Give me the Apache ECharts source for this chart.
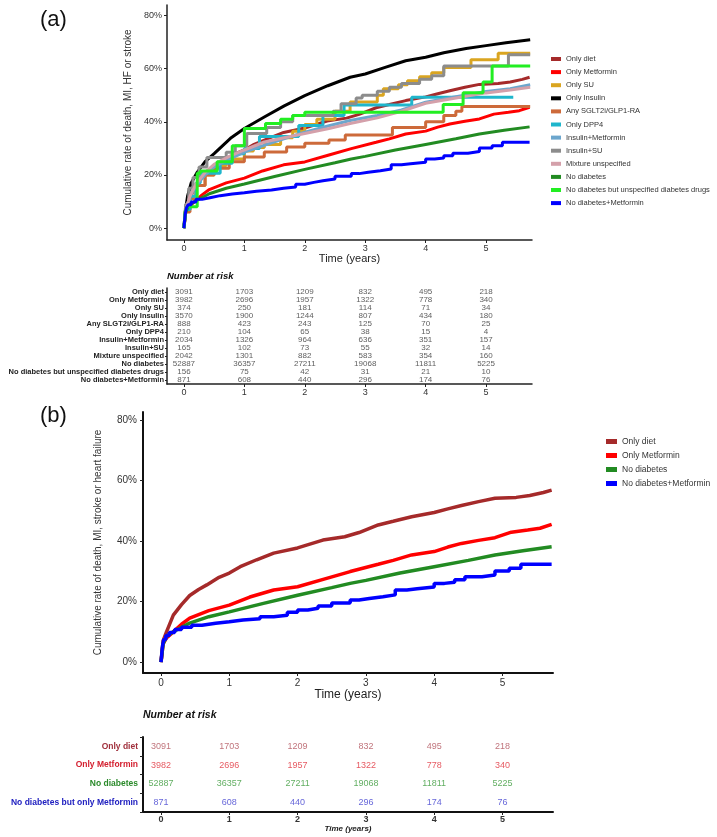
<!DOCTYPE html>
<html>
<head>
<meta charset="utf-8">
<script src="https://cdn.jsdelivr.net/npm/echarts@6/dist/echarts.min.js"></script>
<style>
html, body { margin: 0; padding: 0; background: #fff; }
#chartDiv { width: 717px; height: 837px; }
</style>
</head>
<body>
<div id="chartDiv"></div>
<script>
// cumulative rate curves, [years, %]
var onlyDiet = [[0,0],[0.03,7],[0.08,10],[0.18,15.5],[0.3,19],[0.42,22],[0.55,24],[0.67,25.5],[0.85,28],[1,29.4],[1.16,31.5],[1.4,33.8],[1.65,36],[2,37.7],[2.37,40.3],[2.69,41.4],[2.9,42.8],[3.18,45.3],[3.4,46.5],[3.67,48],[4,49.4],[4.2,50.6],[4.4,51.7],[4.65,53],[4.89,54.1],[5.2,54.4],[5.4,55],[5.6,56],[5.72,56.8]];
var onlyMetformin = [[0,0],[0.03,6],[0.08,8],[0.18,10],[0.3,12.5],[0.42,14.5],[0.7,17],[1,18.8],[1.3,21.5],[1.65,23.8],[2,24.9],[2.4,27.5],[2.77,29.9],[3.18,32.3],[3.4,33.6],[3.67,35.4],[4,36.5],[4.2,38],[4.4,39.2],[4.65,40.2],[4.89,41.1],[5.13,42.9],[5.37,43.6],[5.55,44.2],[5.72,45.5]];
var onlySU = [[0,0],[0.03,7],[0.1,12],[0.2,16],[0.35,20],[0.5,23.6],[0.7,26],[1,29],[1.15,30.3],[1.33,31.5],[1.6,34],[1.8,36.5],[2,39],[2.2,41],[2.5,44],[2.75,47.5],[3.2,50],[3.3,52.5],[3.55,54],[3.7,55.5],[3.9,57],[4.1,58.5],[4.3,60.5],[4.75,63.4],[5.2,65.8],[5.73,65.8]];
var onlyInsulin = [[0,0],[0.02,6],[0.06,12],[0.12,17],[0.22,21],[0.35,25],[0.5,28],[0.77,33.8],[1,37.5],[1.33,41.8],[1.66,46],[2,49.9],[2.38,53.6],[2.75,56.8],[3,58],[3.33,60.5],[3.67,63],[4,64.3],[4.3,66],[4.67,67.6],[5,68.7],[5.33,69.8],[5.73,70.9]];
var anySGLT2 = [[0,0],[0.03,6],[0.1,11],[0.2,16],[0.35,20],[0.5,22.5],[0.75,25],[1,26.8],[1.33,28.6],[1.7,30.5],[2,31.9],[2.4,33.2],[2.67,35],[3.45,37.9],[4,40],[4.3,42.4],[4.5,44],[4.6,45.8],[5.73,45.8]];
var onlyDPP4 = [[0,0],[0.03,7],[0.1,12],[0.2,17],[0.27,20.6],[0.6,24.4],[0.8,28],[1,30],[1.25,34.5],[1.9,38.6],[2.3,42.4],[2.65,46.3],[3.77,49.3],[5.45,49.3]];
var insulinMetformin = [[0,0],[0.03,7],[0.1,12],[0.2,16],[0.35,20],[0.5,23],[0.75,26],[1,28.6],[1.5,32.5],[2,36.1],[2.4,38.5],[2.75,40.5],[3.2,42.4],[3.6,44.5],[4,47.4],[4.5,49.5],[5,51.4],[5.4,52.5],[5.73,54]];
var insulinSU = [[0,0],[0.03,9],[0.08,15],[0.15,19],[0.25,23],[0.38,26.6],[0.7,28.5],[0.85,31],[1.04,35.6],[1.37,37.9],[1.6,40],[1.8,42.4],[2.47,44],[2.6,46.8],[2.85,49],[2.95,50],[3.2,51.5],[3.4,53],[3.6,54.4],[3.9,56],[4.1,57.4],[4.3,61],[5.37,65.3],[5.73,65.3]];
var mixture = [[0,0],[0.03,7],[0.1,12],[0.2,16.5],[0.35,21],[0.5,24],[0.75,27],[1,29.4],[1.33,32.4],[1.7,34.2],[2,35.6],[2.4,37.5],[2.75,39.4],[3.2,41.5],[3.6,44],[4,47],[4.5,49],[5,50.9],[5.4,52],[5.73,53]];
var noDiabetes = [[0,0],[0.03,6],[0.08,8.5],[0.18,10],[0.42,12.9],[0.7,15],[1,16.6],[1.5,19.4],[2,22.1],[2.5,24.6],[2.77,26],[3,27],[3.5,29.4],[4,31.5],[4.5,33.6],[4.89,35.4],[5.3,36.8],[5.72,38.1]];
var ndUnspecified = [[0,0],[0.02,6],[0.05,8],[0.22,20.6],[0.27,21.5],[0.55,25],[0.8,31],[1,37.5],[1.35,39.4],[1.6,41],[1.8,42.4],[2,43.6],[4.29,46.5],[4.62,51],[4.95,55],[5.1,61],[5.73,61]];
var ndMetformin = [[0,0],[0.02,5],[0.04,7.5],[0.07,8.8],[0.12,9.8],[0.2,10.8],[0.3,11.5],[0.45,12.2],[0.6,12.8],[0.8,13.3],[1,13.9],[1.2,14.3],[1.45,15],[1.65,15.5],[1.85,16.5],[2,17.2],[2.15,17.8],[2.3,18.5],[2.5,19.5],[2.77,20.5],[2.9,21],[3.05,21.6],[3.25,22.2],[3.43,23.8],[3.6,24.2],[3.75,24.8],[4,26],[4.15,26.4],[4.3,27.2],[4.45,28.2],[4.7,28.8],[4.89,30.1],[5.1,31],[5.27,32.3],[5.72,32.3]];

var groupsA = ['Only diet', 'Only Metformin', 'Only SU', 'Only Insulin', 'Any SGLT2i/GLP1-RA', 'Only DPP4',
    'Insulin+Metformin', 'Insulin+SU', 'Mixture unspecified', 'No diabetes',
    'No diabetes but unspecified diabetes drugs', 'No diabetes+Metformin'];
var curvesA = [onlyDiet, onlyMetformin, onlySU, onlyInsulin, anySGLT2, onlyDPP4,
    insulinMetformin, insulinSU, mixture, noDiabetes, ndUnspecified, ndMetformin];
var groupsB = ['Only diet', 'Only Metformin', 'No diabetes', 'No diabetes+Metformin'];
var curvesB = [onlyDiet, onlyMetformin, noDiabetes, ndMetformin];

// number at risk
var riskTimes = [0, 1, 2, 3, 4, 5];
var riskNamesA = ['Only diet', 'Only Metformin', 'Only SU', 'Only Insulin', 'Any SLGT2i/GLP1-RA', 'Only DPP4',
    'Insulin+Metformin', 'Insulin+SU', 'Mixture unspecified', 'No diabetes',
    'No diabetes but unspecified diabetes drugs', 'No diabetes+Metformin'];
var riskA = [
    [3091, 1703, 1209, 832, 495, 218],
    [3982, 2696, 1957, 1322, 778, 340],
    [374, 250, 181, 114, 71, 34],
    [3570, 1900, 1244, 807, 434, 180],
    [888, 423, 243, 125, 70, 25],
    [210, 104, 65, 38, 15, 4],
    [2034, 1326, 964, 636, 351, 157],
    [165, 102, 73, 55, 32, 14],
    [2042, 1301, 882, 583, 354, 160],
    [52887, 36357, 27211, 19068, 11811, 5225],
    [156, 75, 42, 31, 21, 10],
    [871, 608, 440, 296, 174, 76]
];
var riskNamesB = ['Only diet', 'Only Metformin', 'No diabetes', 'No diabetes but only Metformin'];
var riskB = [
    [3091, 1703, 1209, 832, 495, 218],
    [3982, 2696, 1957, 1322, 778, 340],
    [52887, 36357, 27211, 19068, 11811, 5225],
    [871, 608, 440, 296, 174, 76]
];
var yTicks = [0, 20, 40, 60, 80];
var xTicks = [0, 1, 2, 3, 4, 5];

// 颜色
var colors = {
    'Only diet': '#a52a2a',
    'Only Metformin': '#ff0000',
    'Only SU': '#daa520',
    'Only Insulin': '#000000',
    'Any SGLT2i/GLP1-RA': '#cd6a3a',
    'Only DPP4': '#1fb6cc',
    'Insulin+Metformin': '#6ca6cd',
    'Insulin+SU': '#8c8c8c',
    'Mixture unspecified': '#d4a0aa',
    'No diabetes': '#228b22',
    'No diabetes but unspecified diabetes drugs': '#22ee22',
    'No diabetes+Metformin': '#0000ff'
};
var stepped = ['Only SU', 'Any SGLT2i/GLP1-RA', 'Only DPP4', 'Insulin+SU',
    'No diabetes but unspecified diabetes drugs', 'No diabetes+Metformin'];
var riskLabelColorsB = ['#a0303c', '#d42030', '#2a8a2a', '#2020c0'];
var riskNumColorsB = ['#b0505a', '#e0303a', '#3a9a3a', '#4040d0'];

var FONT = 'Liberation Sans, Arial, sans-serif';

var myChart = echarts.init(document.getElementById('chartDiv'));

function curve(name, data, idx, width) {
    return {
        name: name,
        type: 'line',
        data: data,
        xAxisIndex: idx,
        yAxisIndex: idx,
        step: stepped.indexOf(name) >= 0 ? 'end' : false,
        showSymbol: false,
        symbol: 'none',
        silent: true,
        lineStyle: {color: colors[name], width: width},
        itemStyle: {color: colors[name]}
    };
}

function riskSeries(names, rows, idx, fontSize, colorFn) {
    var data = [];
    rows.forEach(function (row, i) {
        row.forEach(function (n, j) {
            data.push({value: [riskTimes[j], names[i], n], label: {color: colorFn(i)}});
        });
    });
    return {
        type: 'scatter',
        xAxisIndex: idx,
        yAxisIndex: idx,
        symbolSize: 1,
        silent: true,
        itemStyle: {color: 'transparent'},
        label: {
            show: true,
            position: 'inside',
            fontSize: fontSize,
            fontFamily: FONT,
            formatter: function (p) { return p.value[2]; }
        },
        data: data
    };
}

function timeAxis(idx, min, max, opts) {
    return Object.assign({
        type: 'value',
        gridIndex: idx,
        min: min,
        max: max,
        splitLine: {show: false},
        axisLine: {show: true, onZero: false, lineStyle: {color: '#222', width: 1.5}},
        axisTick: {show: true, customValues: xTicks, length: 3, lineStyle: {color: '#222'}},
        axisLabel: {customValues: xTicks, fontSize: 9, color: '#333', margin: 4, fontFamily: FONT}
    }, opts);
}

function pctAxis(idx, min, max, opts) {
    return Object.assign({
        type: 'value',
        gridIndex: idx,
        min: min,
        max: max,
        splitLine: {show: false},
        axisLine: {show: true, onZero: false, lineStyle: {color: '#222', width: 1.5}},
        axisTick: {show: true, customValues: yTicks, length: 3, lineStyle: {color: '#222'}},
        axisLabel: {customValues: yTicks, formatter: '{value}%', fontSize: 9, color: '#333', margin: 5, fontFamily: FONT},
        nameLocation: 'middle',
        nameTextStyle: {fontSize: 10, color: '#333', fontFamily: FONT}
    }, opts);
}

var series = [];
groupsA.forEach(function (g, i) { series.push(curve(g, curvesA[i], 0, 3)); });
series.push(riskSeries(riskNamesA, riskA, 1, 8, function () { return '#333'; }));
groupsB.forEach(function (g, i) { series.push(curve(g, curvesB[i], 2, 3.5)); });
series.push(riskSeries(riskNamesB, riskB, 3, 9, function (i) { return riskNumColorsB[i]; }));

var option = {
    backgroundColor: '#fff',
    animation: false,
    textStyle: {fontFamily: FONT},
    grid: [
        {left: 167, top: 5, width: 365, height: 235},
        {left: 167, top: 288, width: 365, height: 96},
        {left: 143, top: 412, width: 410, height: 261},
        {left: 143, top: 737, width: 410, height: 75}
    ],
    xAxis: [
        timeAxis(0, -0.28, 5.76, {
            name: 'Time (years)', nameLocation: 'middle', nameGap: 12,
            nameTextStyle: {fontSize: 11, color: '#222', fontFamily: FONT, verticalAlign: 'top'}
        }),
        timeAxis(1, -0.28, 5.76, {}),
        timeAxis(2, -0.264, 5.74, {
            axisLine: {show: true, onZero: false, lineStyle: {color: '#111', width: 2}},
            axisLabel: {customValues: xTicks, fontSize: 10, color: '#333', margin: 5, fontFamily: FONT},
            name: 'Time (years)', nameLocation: 'middle', nameGap: 14,
            nameTextStyle: {fontSize: 12, color: '#222', fontFamily: FONT, verticalAlign: 'top'}
        }),
        timeAxis(3, -0.264, 5.74, {
            axisLine: {show: true, onZero: false, lineStyle: {color: '#111', width: 2}},
            axisLabel: {customValues: xTicks, fontSize: 9, fontWeight: 'bold', color: '#333', margin: 3, fontFamily: FONT},
            name: 'Time (years)', nameLocation: 'middle', nameGap: 13,
            nameTextStyle: {fontSize: 8, fontStyle: 'italic', fontWeight: 'bold', color: '#222', fontFamily: FONT, verticalAlign: 'top'}
        })
    ],
    yAxis: [
        pctAxis(0, -4.5, 84, {name: 'Cumulative rate of death, MI, HF or stroke', nameGap: 30}),
        {
            type: 'category',
            gridIndex: 1,
            inverse: true,
            data: riskNamesA,
            axisLine: {show: true, onZero: false, lineStyle: {color: '#222', width: 1.5}},
            axisTick: {show: true, length: 2, alignWithLabel: true, lineStyle: {color: '#222'}},
            axisLabel: {fontSize: 7.5, fontWeight: 'bold', color: '#222', margin: 3, interval: 0, fontFamily: FONT}
        },
        pctAxis(2, -3.6, 82.6, {
            axisLine: {show: true, onZero: false, lineStyle: {color: '#111', width: 2}},
            axisLabel: {customValues: yTicks, formatter: '{value}%', fontSize: 10, color: '#333', margin: 6, fontFamily: FONT},
            name: 'Cumulative rate of death, MI, stroke or heart failure', nameGap: 40
        }),
        {
            type: 'category',
            gridIndex: 3,
            inverse: true,
            data: riskNamesB,
            axisLine: {show: true, onZero: false, lineStyle: {color: '#111', width: 2}},
            axisTick: {show: true, length: 3, lineStyle: {color: '#222'}},
            axisLabel: {
                fontSize: 8.5, fontWeight: 'bold', margin: 5, interval: 0, fontFamily: FONT,
                color: function (v, i) { return riskLabelColorsB[i]; }
            }
        }
    ],
    legend: [
        {
            data: groupsA,
            orient: 'vertical',
            left: 551,
            top: 54,
            padding: 0,
            icon: 'rect',
            itemWidth: 10,
            itemHeight: 4,
            itemGap: 3.1,
            selectedMode: false,
            textStyle: {fontSize: 7.5, lineHeight: 10, color: '#333', fontFamily: FONT}
        },
        {
            data: groupsB,
            orient: 'vertical',
            left: 606,
            top: 436,
            padding: 0,
            icon: 'rect',
            itemWidth: 11,
            itemHeight: 5,
            itemGap: 3,
            selectedMode: false,
            textStyle: {fontSize: 8.5, lineHeight: 11, color: '#333', fontFamily: FONT}
        }
    ],
    graphic: [
        {type: 'text', left: 40, top: 9, style: {text: '(a)', fontSize: 22, fill: '#111', fontFamily: FONT}},
        {type: 'text', left: 40, top: 405, style: {text: '(b)', fontSize: 22, fill: '#111', fontFamily: FONT}},
        {type: 'text', left: 167, top: 271, style: {text: 'Number at risk', fontSize: 9.5, fontStyle: 'italic', fontWeight: 'bold', fill: '#111', fontFamily: FONT}},
        {type: 'text', left: 143, top: 710, style: {text: 'Number at risk', fontSize: 10.5, fontStyle: 'italic', fontWeight: 'bold', fill: '#111', fontFamily: FONT}}
    ],
    series: series
};
myChart.setOption(option);
</script>
</body>
</html>
